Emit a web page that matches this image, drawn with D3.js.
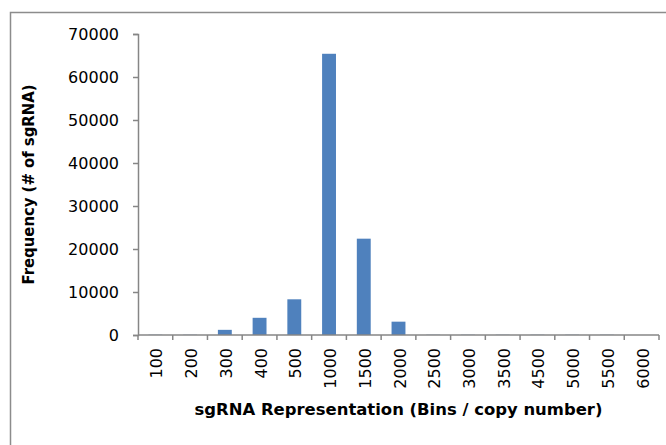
<!DOCTYPE html>
<html lang="en">
<head>
<meta charset="UTF-8">
<title>sgRNA representation histogram</title>
<script src="https://cdn.jsdelivr.net/npm/d3@7"></script>
<style>
  body { margin: 0; background: #fff; }
  svg text { font-family: "DejaVu Sans", sans-serif; fill: #000; }
</style>
</head>
<body>
<div id="chart"></div>
<script>
// bins
var bins = ["100", "200", "300", "400", "500", "1000", "1500", "2000",
            "2500", "3000", "3500", "4500", "5000", "5500", "6000"];
var counts = [60, 60, 1200, 4000, 8300, 65400, 22400, 3100,
              60, 60, 60, 60, 60, 60, 0];
var yTicks = [0, 10000, 20000, 30000, 40000, 50000, 60000, 70000];

var W = 666, H = 445;
var margin = {left: 138, right: 7, top: 34, bottom: 110};

var svg = d3.select("#chart").append("svg")
    .attr("width", W).attr("height", H);

// outer frame (only left and top visible in the crop)
svg.append("rect")
    .attr("x", 10.5).attr("y", 12.5)
    .attr("width", 700).attr("height", 500)
    .attr("fill", "none").attr("stroke", "#8c8c8c").attr("stroke-width", 1.5);

var x = d3.scaleBand().domain(bins)
    .range([margin.left, W - margin.right])
    .paddingInner(0.6).paddingOuter(0.3);
var y = d3.scaleLinear().domain([0, 70000])
    .range([H - margin.bottom, margin.top]);

// bars
svg.append("g").selectAll("rect")
  .data(bins)
  .enter().append("rect")
    .attr("x", function(d) { return x(d); })
    .attr("width", x.bandwidth())
    .attr("y", function(d, i) { return y(counts[i]); })
    .attr("height", function(d, i) { return y(0) - y(counts[i]); })
    .attr("fill", "#4f81bd");

// y axis
var yAxis = svg.append("g")
    .attr("transform", "translate(" + margin.left + ",0)")
    .call(d3.axisLeft(y).tickValues(yTicks).tickSize(5).tickPadding(14).tickFormat(d3.format("d")));
yAxis.selectAll("line, path").attr("stroke", "#868686").attr("stroke-width", 1.5);
yAxis.selectAll("text").style("font-size", "16px");

// x axis: ticks sit on the band edges, like excel
var step = x.step();
var edges = d3.range(bins.length + 1).map(function(i) { return margin.left + i * step; });
var xg = svg.append("g");
xg.append("line")
    .attr("x1", margin.left).attr("x2", edges[edges.length - 1])
    .attr("y1", y(0)).attr("y2", y(0))
    .attr("stroke", "#868686").attr("stroke-width", 1.5);
xg.selectAll("line.tick").data(edges).enter().append("line")
    .attr("class", "tick")
    .attr("x1", function(d) { return d; }).attr("x2", function(d) { return d; })
    .attr("y1", y(0)).attr("y2", y(0) + 5)
    .attr("stroke", "#868686").attr("stroke-width", 1.5);
xg.selectAll("text").data(bins).enter().append("text")
    .attr("transform", function(d) {
      return "translate(" + (x(d) + x.bandwidth() / 2 + 7) + "," + (y(0) + 13) + ") rotate(-90)";
    })
    .attr("text-anchor", "end")
    .style("font-size", "16px")
    .text(function(d) { return d; });

// axis titles
svg.append("text")
    .attr("x", (margin.left + W - margin.right) / 2).attr("y", 415)
    .attr("text-anchor", "middle")
    .style("font-size", "16px").style("font-weight", "bold")
    .attr("textLength", 408).attr("lengthAdjust", "spacingAndGlyphs")
    .text("sgRNA Representation (Bins / copy number)");

svg.append("text")
    .attr("transform", "translate(34," + (y(0) + y(70000)) / 2 + ") rotate(-90)")
    .attr("text-anchor", "middle")
    .style("font-size", "16px").style("font-weight", "bold")
    .attr("textLength", 200).attr("lengthAdjust", "spacingAndGlyphs")
    .text("Frequency (# of sgRNA)");
</script>
</body>
</html>
